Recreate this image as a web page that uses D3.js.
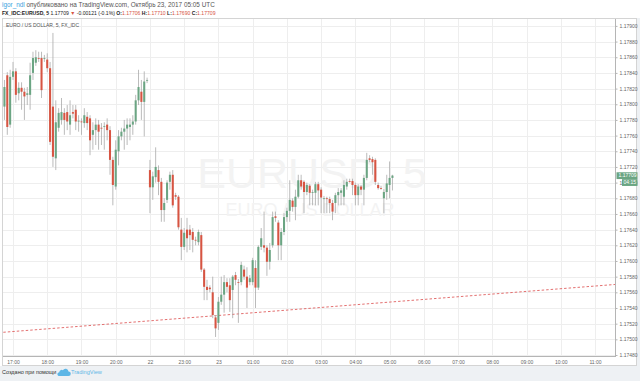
<!DOCTYPE html>
<html><head><meta charset="utf-8">
<script src="https://cdn.jsdelivr.net/npm/d3@7"></script>
<style>
html,body{margin:0;padding:0;background:#fff;}
svg{display:block;font-family:"Liberation Sans",Arial,sans-serif;}
</style></head><body>
<svg id="c" width="640" height="381"></svg>
<script>
// ---- DATA (5-minute bars, slot 0 = 17:00 Fri; weekend gap collapsed) ----
const firstSlot = -3;
const open = [
1.17797,1.17837,1.17774,1.17835,1.17842,1.17814,1.17821,1.17816,1.17812,1.17812,
1.17840,1.17853,1.17859,1.17859,1.17858,1.17857,1.17846,1.17797,1.17731,1.17770,
1.17780,1.17789,1.17790,1.17774,1.17790,1.17793,1.17778,1.17778,1.17776,1.17784,
1.17782,1.17761,1.17767,1.17774,1.17770,1.17771,1.17774,1.17767,1.17729,1.17695,
1.17740,1.17759,1.17765,1.17769,1.17771,1.17774,1.17778,1.17805,1.17816,1.17803,
1.17830,
1.17716,1.17694,1.17707,1.17716,1.17701,1.17665,1.17678,1.17701,1.17710,1.17684,
1.17682,1.17640,1.17618,1.17640,1.17640,1.17637,1.17627,1.17624,1.17633,1.17589,
1.17567,1.17566,1.17560,1.17528,1.17521,1.17548,1.17557,1.17573,1.17569,1.17563,
1.17582,1.17573,1.17573,1.17589,1.17580,1.17573,1.17573,1.17591,1.17566,1.17618,
1.17620,1.17617,1.17599,1.17620,1.17657,1.17649,1.17620,1.17637,1.17656,1.17664,
1.17677,1.17669,1.17682,1.17703,1.17701,1.17688,1.17696,1.17687,1.17687,1.17698,
1.17691,1.17679,1.17680,1.17679,1.17674,1.17674,1.17684,1.17687,1.17682,1.17695,
1.17702,1.17702,1.17697,1.17684,1.17695,1.17691,1.17706,1.17731,1.17730,1.17729,
1.17697,1.17693,1.17680,1.17688,1.17697,1.17706];
const high = [
1.17831,1.17841,1.17844,1.17854,1.17846,1.17828,1.17828,1.17821,1.17822,1.17853,
1.17867,1.17869,1.17867,1.17867,1.17863,1.17865,1.17854,1.17891,1.17805,1.17795,
1.17808,1.17795,1.17799,1.17805,1.17799,1.17799,1.17786,1.17782,1.17795,1.17790,
1.17786,1.17777,1.17782,1.17780,1.17776,1.17777,1.17782,1.17772,1.17733,1.17754,
1.17767,1.17770,1.17780,1.17782,1.17782,1.17786,1.17812,1.17844,1.17831,1.17842,
1.17834,
1.17729,1.17714,1.17745,1.17722,1.17706,1.17680,1.17703,1.17714,1.17716,1.17687,
1.17684,1.17655,1.17642,1.17655,1.17646,1.17642,1.17631,1.17640,1.17637,1.17591,
1.17576,1.17569,1.17580,1.17531,1.17554,1.17580,1.17582,1.17578,1.17578,1.17582,
1.17586,1.17577,1.17599,1.17594,1.17592,1.17582,1.17604,1.17601,1.17620,1.17642,
1.17663,1.17620,1.17623,1.17663,1.17663,1.17652,1.17642,1.17661,1.17668,1.17703,
1.17680,1.17691,1.17710,1.17710,1.17703,1.17700,1.17698,1.17691,1.17701,1.17701,
1.17694,1.17683,1.17682,1.17682,1.17678,1.17687,1.17693,1.17693,1.17703,1.17705,
1.17705,1.17705,1.17700,1.17698,1.17697,1.17710,1.17738,1.17735,1.17733,1.17731,
1.17700,1.17696,1.17692,1.17710,1.17727,1.17710];
const low = [
1.17780,1.17761,1.17770,1.17831,1.17802,1.17805,1.17793,1.17780,1.17799,1.17793,
1.17831,1.17849,1.17854,1.17808,1.17854,1.17841,1.17748,1.17720,1.17716,1.17765,
1.17774,1.17761,1.17767,1.17761,1.17782,1.17767,1.17765,1.17761,1.17770,1.17767,
1.17735,1.17742,1.17748,1.17742,1.17748,1.17742,1.17754,1.17710,1.17671,1.17691,
1.17722,1.17754,1.17742,1.17748,1.17754,1.17761,1.17774,1.17799,1.17780,1.17759,
1.17827,
1.17661,1.17678,1.17700,1.17684,1.17650,1.17650,1.17674,1.17691,1.17668,1.17678,
1.17640,1.17601,1.17614,1.17611,1.17614,1.17611,1.17620,1.17620,1.17586,1.17550,
1.17550,1.17560,1.17527,1.17503,1.17512,1.17544,1.17534,1.17560,1.17535,1.17527,
1.17569,1.17521,1.17569,1.17576,1.17540,1.17569,1.17569,1.17540,1.17563,1.17614,
1.17611,1.17581,1.17589,1.17617,1.17650,1.17601,1.17601,1.17633,1.17650,1.17650,
1.17663,1.17652,1.17680,1.17691,1.17661,1.17684,1.17671,1.17671,1.17671,1.17671,
1.17661,1.17661,1.17661,1.17661,1.17652,1.17661,1.17671,1.17671,1.17671,1.17691,
1.17700,1.17684,1.17671,1.17671,1.17684,1.17671,1.17703,1.17726,1.17710,1.17697,
1.17691,1.17691,1.17661,1.17678,1.17680,1.17690];
const close = [
1.17822,1.17771,1.17835,1.17842,1.17812,1.17821,1.17816,1.17810,1.17814,1.17837,
1.17859,1.17860,1.17858,1.17818,1.17859,1.17846,1.17752,1.17733,1.17777,1.17789,
1.17790,1.17780,1.17778,1.17786,1.17788,1.17778,1.17779,1.17777,1.17786,1.17776,
1.17754,1.17767,1.17774,1.17765,1.17769,1.17772,1.17767,1.17729,1.17697,1.17742,
1.17759,1.17765,1.17769,1.17774,1.17774,1.17778,1.17805,1.17822,1.17803,1.17829,
1.17831,
1.17694,1.17708,1.17720,1.17701,1.17665,1.17674,1.17700,1.17710,1.17671,1.17682,
1.17643,1.17618,1.17636,1.17629,1.17633,1.17627,1.17626,1.17637,1.17589,1.17567,
1.17563,1.17564,1.17531,1.17514,1.17548,1.17557,1.17573,1.17567,1.17550,1.17580,
1.17576,1.17572,1.17595,1.17580,1.17566,1.17578,1.17601,1.17566,1.17618,1.17629,
1.17617,1.17599,1.17614,1.17656,1.17655,1.17620,1.17637,1.17656,1.17664,1.17678,
1.17669,1.17682,1.17703,1.17695,1.17688,1.17697,1.17687,1.17688,1.17698,1.17690,
1.17681,1.17680,1.17679,1.17674,1.17663,1.17684,1.17688,1.17690,1.17697,1.17701,
1.17701,1.17697,1.17684,1.17695,1.17691,1.17706,1.17729,1.17729,1.17726,1.17701,
1.17693,1.17692,1.17688,1.17699,1.17706,1.17709];

const priceTicks = [1.1748,1.1750,1.1752,1.1754,1.1756,1.1758,1.1760,1.1762,1.1764,1.1766,1.1768,
                    1.1770,1.1772,1.1774,1.1776,1.1778,1.1780,1.1782,1.1784,1.1786,1.1788,1.1790];
const timeTickSlots = [0,12,24,36,48,60,72,84,96,108,120,132,144,156,168,180,192,204];
const timeTickLabels = ["17:00","18:00","19:00","20:00","22","23:00","23","01:00","02:00","03:00",
                        "04:00","05:00","06:00","07:00","08:00","09:00","10:00","11:00"];
const trendSlots = [-3.4, 211];
const trendPrices = [1.17509, 1.17570];
const countdown = "04:15";

// ---- LAYOUT ----
const svg = d3.select("#c");
const P = {left:2.5, right:615, top:18.5, bottom:356.5};
const x = d3.scaleLinear().domain([0,204]).range([13,595]);
const y = d3.scaleLinear().domain([1.1748,1.1790]).range([355,25.9]);
const upCol = "#6ba583", dnCol = "#d75442";

svg.append("rect").attr("width",640).attr("height",381).attr("fill","#fff");
svg.append("rect").attr("x",0).attr("y",366).attr("width",640).attr("height",15).attr("fill","#eef1f4");
svg.append("rect").attr("x",637).attr("y",18).attr("width",3).attr("height",363).attr("fill","#eef1f4");
svg.append("rect").attr("x",P.left).attr("y",P.top).attr("width",636.5-P.left).attr("height",365.5-P.top)
   .attr("fill","#fff").attr("stroke","#d4d4d4").attr("stroke-width",1);

svg.append("defs").append("clipPath").attr("id","pc").append("rect")
   .attr("x",P.left).attr("y",P.top).attr("width",P.right-P.left).attr("height",P.bottom-P.top);

// grid
const grid = svg.append("g").attr("shape-rendering","crispEdges");
grid.selectAll(".gx").data(timeTickSlots).join("line")
  .attr("x1",d=>Math.round(x(d))+0.5).attr("x2",d=>Math.round(x(d))+0.5)
  .attr("y1",P.top).attr("y2",P.bottom).attr("stroke","#eeeeee");
grid.selectAll(".gy").data(priceTicks).join("line")
  .attr("x1",P.left).attr("x2",P.right)
  .attr("y1",d=>Math.round(y(d))+0.5).attr("y2",d=>Math.round(y(d))+0.5).attr("stroke","#eeeeee");

// watermark
svg.append("text").attr("x",312).attr("y",188).attr("text-anchor","middle")
  .attr("font-size",43).attr("fill","#f3f3f3").text("EURUSD, 5");
svg.append("text").attr("x",310).attr("y",216).attr("text-anchor","middle")
  .attr("font-size",18).attr("fill","#f3f3f3").text("EURO / US DOLLAR");

// legend
svg.append("text").attr("x",6).attr("y",27).attr("font-size",5).attr("fill","#555")
  .text("EURO / US DOLLAR, 5, FX_IDC");

// trend line
const plotG = svg.append("g").attr("clip-path","url(#pc)");
plotG.append("line")
  .attr("x1",x(trendSlots[0])).attr("y1",y(trendPrices[0]))
  .attr("x2",x(trendSlots[1])).attr("y2",y(trendPrices[1]))
  .attr("stroke","#e06060").attr("stroke-width",0.9).attr("stroke-dasharray","2.5,2");

// candles
const bars = open.map((o,i)=>({s:firstSlot+i,o,h:high[i],l:low[i],c:close[i]}));
const step = x(1)-x(0);
const bw = Math.max(1, step*0.72);
const cg = plotG.append("g");
cg.selectAll(".w").data(bars).join("line")
  .attr("x1",d=>x(d.s)).attr("x2",d=>x(d.s))
  .attr("y1",d=>y(d.h)).attr("y2",d=>y(d.l))
  .attr("stroke","#a9a9a9").attr("stroke-width",0.8);
cg.selectAll(".b").data(bars).join("rect")
  .attr("x",d=>x(d.s)-bw/2).attr("width",bw)
  .attr("y",d=>y(Math.max(d.o,d.c)))
  .attr("height",d=>Math.max(0.8, Math.abs(y(d.o)-y(d.c))))
  .attr("fill",d=>d.c>=d.o?upCol:dnCol);

// axes lines
svg.append("line").attr("x1",P.right+0.5).attr("x2",P.right+0.5).attr("y1",P.top).attr("y2",P.bottom)
  .attr("stroke","#b5b5b5").attr("shape-rendering","crispEdges");
svg.append("line").attr("x1",P.left).attr("x2",P.right+0.5).attr("y1",P.bottom).attr("y2",P.bottom)
  .attr("stroke","#b5b5b5").attr("shape-rendering","crispEdges");

// right price axis
const last = bars[bars.length-1];
const ly = y(last.c);
const yAxis = d3.axisRight(y).tickValues(priceTicks).tickSize(2).tickPadding(2)
  .tickFormat(d3.format(".5f"));
const ya = svg.append("g").attr("transform",`translate(${P.right+0.5},0)`).call(yAxis);
ya.select(".domain").remove();
ya.selectAll("line").attr("stroke","#b5b5b5");
ya.selectAll("text").attr("font-size",5).attr("fill","#666").attr("font-family","Liberation Sans, Arial, sans-serif");

// last price marker (drawn over the axis labels, as in the reference)
const lastCol = last.c>=last.o?upCol:dnCol;
svg.append("rect").attr("x",616.5).attr("y",ly-3.3).attr("width",21).attr("height",6.8).attr("fill",lastCol);
svg.append("text").attr("x",618.5).attr("y",ly).attr("dy","0.35em").attr("font-size",5)
  .attr("fill","#fff").text(d3.format(".5f")(last.c));
svg.append("rect").attr("x",622).attr("y",ly+3.6).attr("width",15.5).attr("height",6.8).attr("fill",lastCol);
svg.append("text").attr("x",623.5).attr("y",ly+7).attr("dy","0.35em").attr("font-size",5)
  .attr("fill","#fff").text(countdown);

// bottom time axis
const xAxis = d3.axisBottom(x).tickValues(timeTickSlots).tickSize(0).tickPadding(4)
  .tickFormat((d,i)=>timeTickLabels[i]);
const xa = svg.append("g").attr("transform",`translate(0,${P.bottom})`).call(xAxis);
xa.select(".domain").remove();
xa.selectAll("text").attr("font-size",5).attr("fill","#666").attr("font-family","Liberation Sans, Arial, sans-serif");

// header
const h1 = svg.append("text").attr("x",2).attr("y",7.2).attr("font-size",6.4).attr("fill","#555");
h1.append("tspan").attr("fill","#3ea3e0").text("igor_ndl");
h1.append("tspan").text(" опубликовано на TradingView.com, Октябрь 23, 2017 05:05 UTC");
const h2 = svg.append("text").attr("x",2).attr("y",15).attr("font-size",5.1).attr("fill","#222");
h2.append("tspan").attr("font-weight","bold").text("FX_IDC:EURUSD, 5");
h2.append("tspan").text(" 1.17709 ");
h2.append("tspan").attr("fill",dnCol).text("▼");
h2.append("tspan").text(" -0.00121 (-0.1%) ");
[["O:","1.17706"],["H:","1.17710"],["L:","1.17690"],["C:","1.17709"]].forEach(([k,v],i)=>{
  h2.append("tspan").attr("font-weight","bold").text((i?" ":"")+k);
  h2.append("tspan").attr("fill",dnCol).text(v);
});

// footer
svg.append("text").attr("x",2).attr("y",374).attr("font-size",5.5).attr("fill","#333").text("Создано при помощи");
svg.append("path").attr("d","M58.5,376 h10 a2.3,2.3 0 0 0 0,-4.6 a3,3 0 0 0 -5.6,-1.2 a2.4,2.4 0 0 0 -3.6,2 a2,2 0 0 0 -0.8,3.8 z")
  .attr("fill","#5db6e6");
svg.append("text").attr("x",71).attr("y",374).attr("font-size",5.6).attr("fill","#5db6e6").text("TradingView");
</script>
</body></html>
